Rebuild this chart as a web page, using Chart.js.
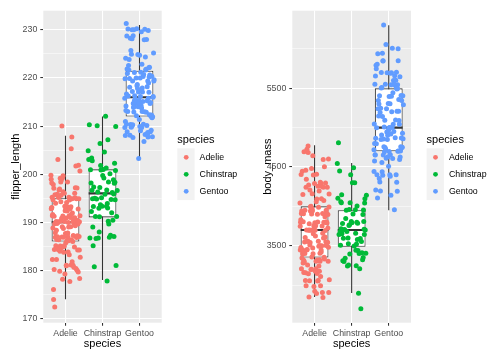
<!DOCTYPE html>
<html><head><meta charset="utf-8">
<script src="https://cdn.jsdelivr.net/npm/chart.js@4/dist/chart.umd.min.js"></script>
<style>
html,body{margin:0;padding:0;background:#ffffff;}
#wrap{position:relative;width:504px;height:360px;overflow:hidden;}
#c1{position:absolute;left:0;top:0;}
#c2{position:absolute;left:252px;top:0;}
</style></head><body>
<div id="wrap"><canvas id="c1" width="252" height="360"></canvas><canvas id="c2" width="252" height="360"></canvas></div>
<script>
// ---------- data ----------
const species = ['Adelie', 'Chinstrap', 'Gentoo'];
const speciesColors = ['#F8766D', '#00BA38', '#619CFF'];

const flipperAdelie = [181,186,195,193,190,181,195,193,190,186,180,182,191,198,185,195,197,184,194,174,180,189,185,180,187,183,187,172,180,178,178,188,184,195,196,190,180,181,184,182,195,186,196,185,190,182,179,190,191,186,188,190,200,187,191,186,193,181,194,185,195,185,192,184,192,195,188,190,198,190,190,196,197,190,195,191,184,187,195,189,196,187,193,191,194,190,189,189,190,202,205,185,186,187,208,190,196,178,192,192,203,183,190,193,184,199,190,181,197,198,191,193,197,191,196,188,199,189,189,187,198,176,202,186,199,191,195,191,210,190,197,193,199,187,190,191,200,185,193,193,187,188,190,192,185,190,184,195,193,187,201];
const flipperChinstrap = [192,196,193,188,197,198,178,197,195,198,193,194,185,201,190,201,197,181,190,195,181,191,187,193,195,197,200,200,191,205,187,201,187,203,195,199,195,210,192,205,210,187,196,196,196,201,190,212,187,198,199,201,193,203,187,197,191,203,202,194,206,189,195,207,202,193,210,198];
const flipperGentoo = [211,230,210,218,215,210,211,219,209,215,214,216,214,213,210,217,210,221,209,222,218,215,213,215,215,215,216,215,210,220,222,209,207,230,220,220,213,219,208,208,208,225,210,216,222,217,210,225,213,215,210,220,210,225,217,220,208,220,208,224,208,221,214,231,219,230,214,229,220,223,216,221,221,217,216,230,209,220,215,223,212,221,212,224,212,228,218,218,212,230,218,228,212,224,214,226,216,222,203,225,219,228,215,228,216,215,210,219,208,209,216,229,213,230,217,230,217,222,214,215,222,212,213];

const massAdelie = [3750,3800,3250,3450,3650,3625,4675,3475,4250,3300,3700,3200,3800,4400,3700,3450,4500,3325,4200,3400,3600,3800,3950,3800,3800,3550,3200,3150,3950,3250,3900,3300,3900,3325,4150,3950,3550,3300,4650,3150,3900,3100,4400,3000,4600,3425,2975,3450,4150,3500,4300,3450,4050,2900,3700,3550,3800,2850,3750,3150,4400,3600,4050,2850,3950,3350,4100,3050,4450,3600,3900,3550,4150,3700,4250,3700,3900,3550,4000,3200,4700,3800,4200,3350,3550,3800,3500,3950,3600,3550,4300,3400,4450,3300,4300,3700,4350,2900,4100,3725,4725,3075,4250,2925,3550,3750,3900,3175,4775,3825,4600,3200,4275,3900,4075,2900,3775,3350,3325,3150,3500,3450,3875,3050,4000,3275,4300,3050,4000,3325,3500,3500,4475,3425,3900,3175,3975,3400,4250,3400,3475,3050,3725,3000,3650,4250,3475,3450,3750,3700,4000];
const massChinstrap = [3500,3900,3650,3525,3725,3950,3250,3750,4150,3700,3800,3775,3700,4050,3575,4050,3300,3700,3450,4400,3600,3400,2900,3800,3300,4150,3400,3800,3700,4550,3200,4300,3350,4100,3600,3900,3850,4800,2700,4500,3950,3650,3550,3500,3675,4450,3400,4300,3250,3675,3325,3950,3600,4050,3350,3450,3250,4050,3800,3525,3950,3650,3650,4000,3400,3775,4100,3775];
const massGentoo = [4500,5700,4450,5700,5400,4550,4800,5200,4400,5150,4650,5550,4650,5850,4200,5850,4150,6300,4800,5350,5700,5000,4400,5050,5000,5100,4100,5650,4600,5550,5250,4700,5050,6050,5150,5400,4950,5250,4350,5350,3950,5700,4300,4750,5550,4900,4200,5400,5100,5300,4850,5300,4400,5000,4900,5050,4300,5000,4450,5550,4200,5300,4400,5650,4700,5700,4650,5800,4700,5550,4750,5000,5100,5200,4700,5800,4600,6000,4750,5950,4625,5450,4725,5350,4750,5600,4600,5300,4875,5550,4950,5400,4750,5650,4850,5200,4925,4875,4625,5250,4850,5600,4975,5500,4725,5500,4700,5500,4575,5500,5000,5950,4650,5500,4375,5850,4875,6000,4925,4850,5750,5200,5400];

// box statistics per species (Adelie, Chinstrap, Gentoo)
const flipperLower  = [174, 178, 203];
const flipperQ1     = [186, 191, 212];
const flipperMedian = [190, 196, 216];
const flipperQ3     = [195, 201, 221.5];
const flipperUpper  = [208, 212, 231];

const massLower  = [2850, 2900, 3950];
const massQ1     = [3350, 3487.5, 4700];
const massMedian = [3700, 3700, 5000];
const massQ3     = [4000, 3950, 5500];
const massUpper  = [4775, 4550, 6300];

// tick labels
const flipperMajorTicks = [170, 180, 190, 200, 210, 220, 230];
const flipperMinorTicks = [175, 185, 195, 205, 215, 225];
const massMajorTicks = [3500, 4500, 5500];
const massMinorTicks = [3000, 4000, 5000, 6000];

// ---------- helpers ----------
const FONT = '"Liberation Sans", Arial, Helvetica, sans-serif';
// deterministic display jitter like geom_jitter (low-discrepancy sequence):
// horizontal +-0.4 category, vertical +-0.4 of the data resolution
function jitterX(i, s) {
  const f = ((i + 1) * 0.7548776662 + s * 0.37) % 1;
  return (f - 0.5) * 0.8;
}
function jitterY(i, s) {
  const f = ((i + 1) * 0.5698402910 + s * 0.21) % 1;
  return (f - 0.5) * 0.8;
}

const panelBg = {
  id: 'panelBg',
  beforeDraw(chart) {
    const a = chart.chartArea, ctx = chart.ctx;
    ctx.save();
    ctx.fillStyle = '#EBEBEB';
    ctx.fillRect(a.left, a.top, a.right - a.left, a.bottom - a.top);
    ctx.restore();
  }
};

const ggLegend = {
  id: 'ggLegend',
  afterDraw(chart) {
    const ctx = chart.ctx, a = chart.chartArea;
    const x0 = a.right + 15.6;
    ctx.save();
    ctx.fillStyle = '#000000';
    ctx.font = '11px ' + FONT;
    ctx.textBaseline = 'alphabetic';
    ctx.textAlign = 'left';
    ctx.fillText('species', x0, 142.5);
    ctx.fillStyle = '#F2F2F2';
    ctx.fillRect(x0, 148.3, 17.3, 51.8);
    species.forEach((sp, s) => {
      const cy = 157.3 + s * 17.0;
      ctx.beginPath();
      ctx.arc(x0 + 8.9, cy, 2.4, 0, Math.PI * 2);
      ctx.fillStyle = speciesColors[s];
      ctx.fill();
      ctx.fillStyle = '#000000';
      ctx.font = '8.8px ' + FONT;
      ctx.textBaseline = 'middle';
      ctx.fillText(sp, x0 + 22.3, cy + 0.3);
    });
    ctx.restore();
  }
};

function makePanel(canvasId, yTitle, valueSets, resolution, lower, q1, med, q3, upper, majorTicks, minorTicks, yMin, yMax, yAxisWidth, rightPad) {
  const datasets = [];
  valueSets.forEach((vals, s) => {
    datasets.push({
      type: 'scatter', label: species[s],
      data: vals.map((v, i) => ({ x: s + 1 + jitterX(i, s), y: v + jitterY(i, s) * resolution })),
      backgroundColor: speciesColors[s], borderWidth: 0,
      pointRadius: 2.5, pointHoverRadius: 2.5, order: 0
    });
  });
  species.forEach((sp, s) => {
    datasets.push({
      type: 'line', label: sp + ' whisker',
      data: [{ x: s + 1, y: lower[s] }, { x: s + 1, y: upper[s] }],
      borderColor: '#333333', borderWidth: 1.07, pointRadius: 0, fill: false, order: 3
    });
    datasets.push({
      type: 'line', label: sp + ' median',
      data: [{ x: s + 1 - 0.375, y: med[s] }, { x: s + 1 + 0.375, y: med[s] }],
      borderColor: '#333333', borderWidth: 2.1, pointRadius: 0, fill: false, order: 1
    });
  });
  datasets.push({
    type: 'bar', label: 'box',
    data: species.map((sp, s) => ({ x: s + 1, y: [q1[s], q3[s]] })),
    backgroundColor: '#FFFFFF', borderColor: '#333333', borderWidth: 1.07,
    borderSkipped: false, barPercentage: 0.75, categoryPercentage: 1, order: 2
  });

  const allTicks = majorTicks.concat(minorTicks).sort((a, b) => a - b);
  const isMajor = v => majorTicks.indexOf(v) >= 0;

  return new Chart(document.getElementById(canvasId), {
    type: 'scatter',
    data: { datasets },
    options: {
      responsive: false, animation: false, events: [],
      layout: { padding: { left: 0, top: 10.7, right: rightPad, bottom: 0 } },
      plugins: { legend: { display: false }, tooltip: { enabled: false } },
      scales: {
        x: {
          type: 'linear', min: 0.4, max: 3.6, offset: false,
          afterBuildTicks: sc => { sc.ticks = species.map((sp, s) => ({ value: s + 1 })); },
          afterFit: sc => { sc.height = 37.3; },
          ticks: {
            callback: v => species[Math.round(v) - 1],
            color: '#4D4D4D', font: { family: FONT, size: 8.8 },
            padding: 2.5, maxRotation: 0, autoSkip: false
          },
          grid: { offset: false, color: '#FFFFFF', lineWidth: 1.07, tickColor: '#333333', tickWidth: 1.07, tickLength: 3, drawTicks: true },
          border: { display: false },
          title: { display: true, text: 'species', color: '#000000', font: { family: FONT, size: 11 }, padding: { top: 0, bottom: 9.6 } }
        },
        y: {
          type: 'linear', min: yMin, max: yMax,
          afterBuildTicks: sc => { sc.ticks = allTicks.map(v => ({ value: v })); },
          afterFit: sc => { sc.width = yAxisWidth; },
          ticks: {
            callback: v => isMajor(v) ? String(v) : '',
            color: '#4D4D4D', font: { family: FONT, size: 8.8 }, padding: 3, autoSkip: false
          },
          grid: {
            color: '#FFFFFF',
            lineWidth: c => (c.tick && isMajor(c.tick.value)) ? 1.07 : 0.53,
            tickColor: c => (c.tick && isMajor(c.tick.value)) ? '#333333' : 'rgba(0,0,0,0)',
            tickWidth: 1.07, tickLength: 3, drawTicks: true
          },
          border: { display: false },
          title: { display: true, text: yTitle, color: '#000000', font: { family: FONT, size: 11 }, padding: { top: 9.3, bottom: 0 } }
        }
      }
    },
    plugins: [panelBg, ggLegend]
  });
}

makePanel('c1', 'flipper_length', [flipperAdelie, flipperChinstrap, flipperGentoo], 1,
  flipperLower, flipperQ1, flipperMedian, flipperQ3, flipperUpper,
  flipperMajorTicks, flipperMinorTicks, 169.1, 234.0, 43.3, 90.3);
makePanel('c2', 'body_mass', [massAdelie, massChinstrap, massGentoo], 25,
  massLower, massQ1, massMedian, massQ3, massUpper,
  massMajorTicks, massMinorTicks, 2522, 6486, 40.3, 93);
</script>
</body></html>
